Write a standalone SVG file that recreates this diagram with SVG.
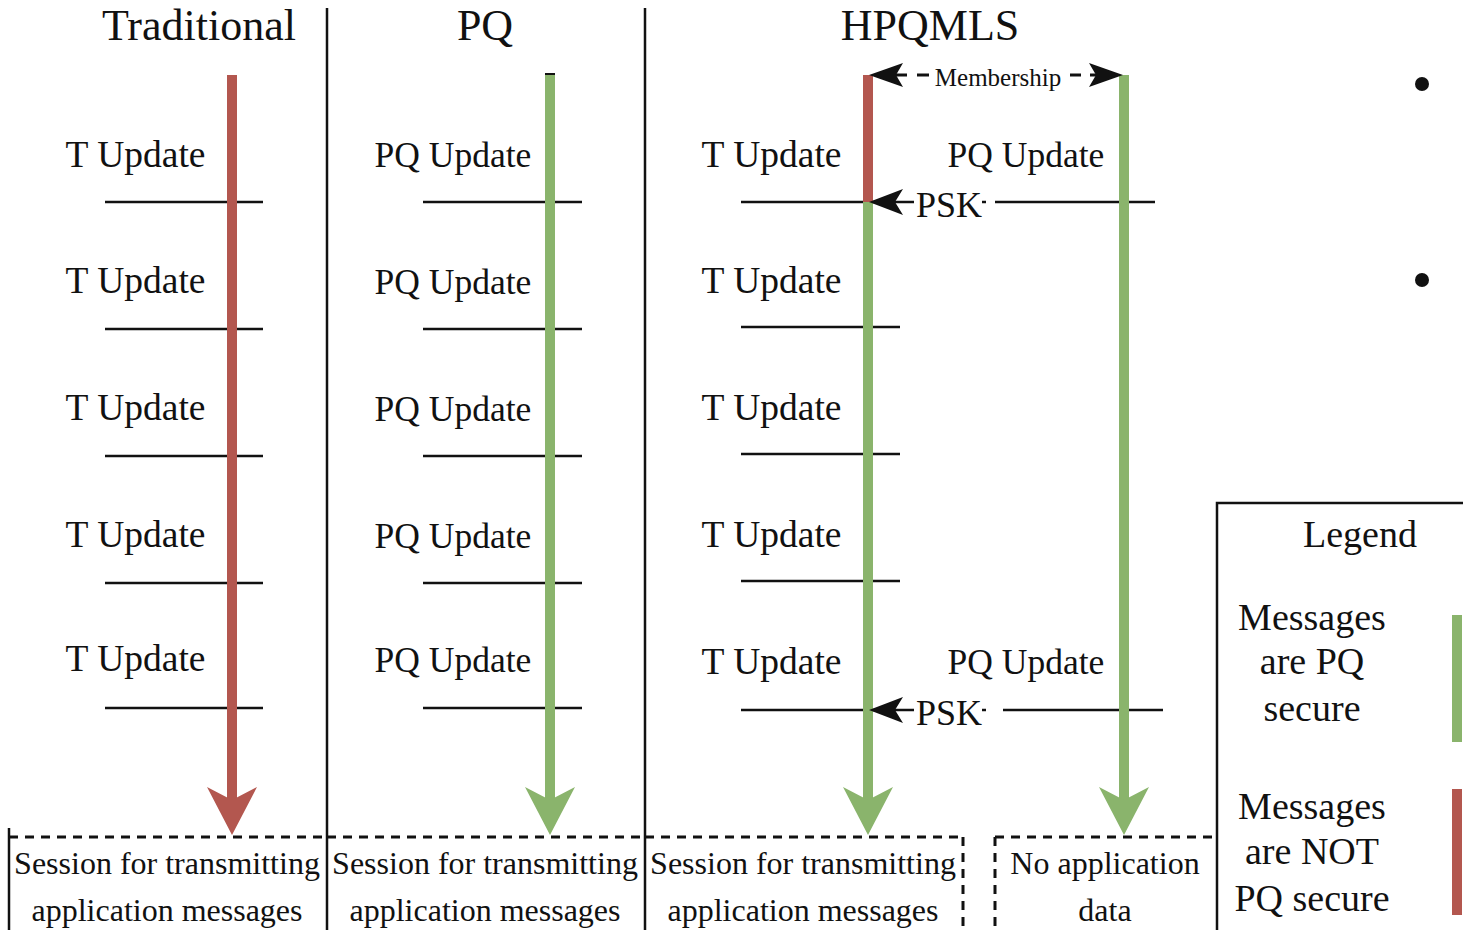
<svg xmlns="http://www.w3.org/2000/svg" width="1463" height="930" viewBox="0 0 1463 930">
<style>
  text { font-family: "Liberation Serif", "Times New Roman", serif; fill: #111; }
  .title { font-size: 44px; text-anchor: middle; }
  .upd { font-size: 37.5px; text-anchor: middle; }
  .upq { font-size: 35.5px; text-anchor: middle; }
  .box { font-size: 32px; text-anchor: middle; }
  .leg { font-size: 38px; text-anchor: middle; }
  .psk { font-size: 36px; }
  .memb { font-size: 25px; text-anchor: middle; }
  .hl { stroke: #111; stroke-width: 2.5; fill: none; }
  .div { stroke: #111; stroke-width: 2.5; fill: none; }
  .dash { stroke: #111; stroke-width: 3; fill: none; stroke-dasharray: 9 7; }
  .red { stroke: #b3574f; stroke-width: 10; fill: none; }
  .green { stroke: #8ab46c; stroke-width: 10; fill: none; }
  .redf { fill: #b3574f; }
  .greenf { fill: #8ab46c; }
  .blk { fill: #111; }
</style>

<g id="dividers">
  <line class="div" x1="327" y1="8" x2="327" y2="930"/>
  <line class="div" x1="645" y1="8" x2="645" y2="930"/>
</g>

<g id="titles">
  <text class="title" x="199" y="40">Traditional</text>
  <text class="title" x="485" y="40">PQ</text>
  <text class="title" x="930" y="40">HPQMLS</text>
</g>

<g id="connectors">
  <!-- Traditional update lines -->
  <line class="hl" x1="105" y1="202" x2="263" y2="202"/>
  <line class="hl" x1="105" y1="329" x2="263" y2="329"/>
  <line class="hl" x1="105" y1="456" x2="263" y2="456"/>
  <line class="hl" x1="105" y1="583" x2="263" y2="583"/>
  <line class="hl" x1="105" y1="708" x2="263" y2="708"/>
  <!-- PQ update lines -->
  <line class="hl" x1="423" y1="202" x2="582" y2="202"/>
  <line class="hl" x1="423" y1="329" x2="582" y2="329"/>
  <line class="hl" x1="423" y1="456" x2="582" y2="456"/>
  <line class="hl" x1="423" y1="583" x2="582" y2="583"/>
  <line class="hl" x1="423" y1="708" x2="582" y2="708"/>
  <!-- HPQMLS update lines -->
  <line class="hl" x1="741" y1="202" x2="914" y2="202"/>
  <line class="hl" x1="982" y1="202" x2="986" y2="202"/>
  <line class="hl" x1="995" y1="202" x2="1155" y2="202"/>
  <line class="hl" x1="741" y1="327" x2="900" y2="327"/>
  <line class="hl" x1="741" y1="454" x2="900" y2="454"/>
  <line class="hl" x1="741" y1="581" x2="900" y2="581"/>
  <line class="hl" x1="741" y1="710" x2="914" y2="710"/>
  <line class="hl" x1="982" y1="710" x2="986" y2="710"/>
  <line class="hl" x1="1003" y1="710" x2="1163" y2="710"/>

  <!-- Traditional arrow -->
  <line class="red" x1="232" y1="75" x2="232" y2="803"/>
  <polygon class="redf" points="232,835 257,787 232,800 207,787"/>
  <!-- PQ arrow -->
  <line class="green" x1="550" y1="74" x2="550" y2="803"/>
  <line stroke="#111" stroke-width="2" x1="545" y1="74" x2="555" y2="74"/>
  <polygon class="greenf" points="550,835 575,787 550,800 525,787"/>
  <!-- HPQMLS left arrow -->
  <line class="red" x1="868" y1="75" x2="868" y2="203"/>
  <line class="green" x1="868" y1="202" x2="868" y2="803"/>
  <polygon class="greenf" points="868,835 893,787 868,800 843,787"/>
  <!-- HPQMLS right arrow -->
  <line class="green" x1="1124" y1="75" x2="1124" y2="803"/>
  <polygon class="greenf" points="1124,835 1149,787 1124,800 1099,787"/>

  <!-- PSK arrowheads -->
  <polygon class="blk" points="869,202 903,189 895,202 903,215"/>
  <polygon class="blk" points="869,710 903,697 895,710 903,723"/>

  <!-- Membership double arrow -->
  <line stroke="#111" stroke-width="3" x1="896" y1="75" x2="907" y2="75"/>
  <line stroke="#111" stroke-width="3" x1="917" y1="75" x2="929" y2="75"/>
  <line stroke="#111" stroke-width="3" x1="1070" y1="75" x2="1081" y2="75"/>
  <line stroke="#111" stroke-width="3" x1="1090" y1="75" x2="1100" y2="75"/>
  <polygon class="blk" points="869,75 903,63 896,75 903,87"/>
  <polygon class="blk" points="1123,75 1089,63 1096,75 1089,87"/>
</g>

<g id="labels">
  <text class="upd" x="135.5" y="167">T Update</text>
  <text class="upd" x="135.5" y="293">T Update</text>
  <text class="upd" x="135.5" y="420">T Update</text>
  <text class="upd" x="135.5" y="547">T Update</text>
  <text class="upd" x="135.5" y="671">T Update</text>

  <text class="upq" x="453" y="167">PQ Update</text>
  <text class="upq" x="453" y="294">PQ Update</text>
  <text class="upq" x="453" y="421">PQ Update</text>
  <text class="upq" x="453" y="548">PQ Update</text>
  <text class="upq" x="453" y="672">PQ Update</text>

  <text class="upd" x="771.5" y="167">T Update</text>
  <text class="upd" x="771.5" y="293">T Update</text>
  <text class="upd" x="771.5" y="420">T Update</text>
  <text class="upd" x="771.5" y="547">T Update</text>
  <text class="upd" x="771.5" y="674">T Update</text>

  <text class="upq" x="1026" y="167">PQ Update</text>
  <text class="upq" x="1026" y="674">PQ Update</text>

  <text class="psk" x="916" y="217">PSK</text>
  <text class="psk" x="916" y="725">PSK</text>
  <text class="memb" x="998" y="86">Membership</text>
</g>

<g id="box-traditional">
  <line class="div" x1="9" y1="828" x2="9" y2="930"/>
  <line class="dash" x1="9" y1="837" x2="327" y2="837"/>
  <text class="box" x="167" y="874">Session for transmitting</text>
  <text class="box" x="167" y="921">application messages</text>
</g>
<g id="box-pq">
  <line class="dash" x1="327" y1="837" x2="645" y2="837"/>
  <text class="box" x="485" y="874">Session for transmitting</text>
  <text class="box" x="485" y="921">application messages</text>
</g>
<g id="box-hpqmls">
  <line class="dash" x1="645" y1="837" x2="963" y2="837"/>
  <line class="dash" x1="963" y1="837" x2="963" y2="930"/>
  <text class="box" x="803" y="874">Session for transmitting</text>
  <text class="box" x="803" y="921">application messages</text>
</g>
<g id="box-noapp">
  <line class="dash" x1="995" y1="837" x2="1217" y2="837"/>
  <line class="dash" x1="995" y1="837" x2="995" y2="930"/>
  <text class="box" x="1105" y="874">No application</text>
  <text class="box" x="1105" y="921">data</text>
</g>

<g id="legend">
  <polyline class="div" points="1217,930 1217,503 1463,503"/>
  <text class="leg" x="1360" y="547">Legend</text>
  <text class="leg" x="1312" y="630">Messages</text>
  <text class="leg" x="1312" y="674">are PQ</text>
  <text class="leg" x="1312" y="721">secure</text>
  <rect class="greenf" x="1452" y="615" width="10" height="127"/>
  <text class="leg" x="1312" y="819">Messages</text>
  <text class="leg" x="1312" y="864">are NOT</text>
  <text class="leg" x="1312" y="911">PQ secure</text>
  <rect class="redf" x="1452" y="789" width="10" height="126"/>
</g>

<g id="bullets">
  <circle class="blk" cx="1422" cy="84" r="7"/>
  <circle class="blk" cx="1422" cy="280" r="7"/>
</g>
</svg>
